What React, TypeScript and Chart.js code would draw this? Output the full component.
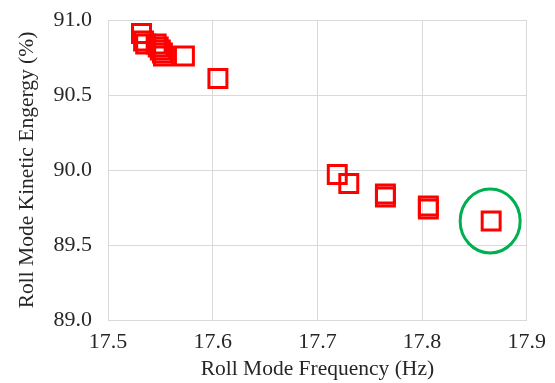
import React, { useEffect, useRef } from "react";
import { Chart, registerables } from "chart.js";

Chart.register(...registerables);

const frequencyHz = [
  17.532, 17.534, 17.536, 17.546, 17.548, 17.550, 17.552, 17.553, 17.573, 17.605,
  17.719, 17.730, 17.765, 17.765, 17.806, 17.806, 17.866,
];
const kineticEnergyPct = [
  90.91, 90.86, 90.84, 90.84, 90.82, 90.80, 90.78, 90.76, 90.76, 90.61,
  89.97, 89.91, 89.84, 89.82, 89.76, 89.74, 89.66,
];
const xTicks = [17.5, 17.6, 17.7, 17.8, 17.9];
const yTicks = [89.0, 89.5, 90.0, 90.5, 91.0];
const highlightIndex = 16;

const FONT = "'Liberation Serif', 'Times New Roman', serif";

const ellipsePlugin = {
  id: "highlightEllipse",
  afterDatasetsDraw(chart: any) {
    const { ctx, scales } = chart;
    const cx = scales.x.getPixelForValue(frequencyHz[highlightIndex]);
    const cy = scales.y.getPixelForValue(kineticEnergyPct[highlightIndex]);
    ctx.save();
    ctx.beginPath();
    ctx.ellipse(cx - 1, cy, 30, 32, 0, 0, Math.PI * 2);
    ctx.strokeStyle = "#00b050";
    ctx.lineWidth = 3;
    ctx.stroke();
    ctx.restore();
  },
};

export default function App() {
  const ref = useRef<HTMLCanvasElement | null>(null);
  useEffect(() => {
    if (!ref.current) return;
    const chart = new Chart(ref.current, {
      type: "scatter",
      data: {
        datasets: [
          {
            data: frequencyHz.map((x, i) => ({ x, y: kineticEnergyPct[i] })),
            pointStyle: "rect",
            pointRadius: 12.7,
            pointHoverRadius: 12.7,
            borderColor: "#ff0000",
            backgroundColor: "rgba(0,0,0,0)",
            pointBorderWidth: 3,
            borderWidth: 3,
          },
        ],
      },
      options: {
        responsive: false,
        animation: false,
        layout: { padding: { left: 0, right: 28, top: 20, bottom: 0 } },
        plugins: { legend: { display: false }, tooltip: { enabled: false } },
        scales: {
          x: {
            type: "linear",
            min: 17.5,
            max: 17.9,
            afterBuildTicks: (s: any) => {
              s.ticks = xTicks.map((v) => ({ value: v }));
            },
            afterFit: (s: any) => {
              s.height = 63;
              s.paddingTop = 0;
              s.paddingBottom = 0;
            },
            grid: { color: "#d9d9d9", lineWidth: 1, drawTicks: false },
            border: { color: "#d9d9d9" },
            ticks: {
              padding: 9,
              color: "#262626",
              font: { family: FONT, size: 22 },
              callback: (v: any) => Number(v).toFixed(1),
              maxRotation: 0,
            },
            title: {
              display: true,
              text: "Roll Mode Frequency (Hz)",
              color: "#262626",
              font: { family: FONT, size: 21.5 },
              padding: { top: 0, bottom: 1 },
            },
          },
          y: {
            type: "linear",
            min: 89.0,
            max: 91.0,
            afterBuildTicks: (s: any) => {
              s.ticks = yTicks.map((v) => ({ value: v }));
            },
            afterFit: (s: any) => {
              s.width = 108;
              s.paddingTop = 0;
              s.paddingBottom = 0;
            },
            grid: { color: "#d9d9d9", lineWidth: 1, drawTicks: false },
            border: { color: "#d9d9d9" },
            ticks: {
              padding: 16,
              color: "#262626",
              font: { family: FONT, size: 22 },
              callback: (v: any) => Number(v).toFixed(1),
            },
            title: {
              display: true,
              text: "Roll Mode Kinetic Engergy (%)",
              color: "#262626",
              font: { family: FONT, size: 21.5 },
              padding: { top: 14, bottom: 0 },
            },
          },
        },
      },
      plugins: [ellipsePlugin],
    } as any);
    return () => chart.destroy();
  }, []);
  return (
    <div style={{ position: "absolute", left: 0, top: 0, width: 555, height: 383, background: "#fff" }}>
      <canvas ref={ref} width={555} height={383} />
    </div>
  );
}
